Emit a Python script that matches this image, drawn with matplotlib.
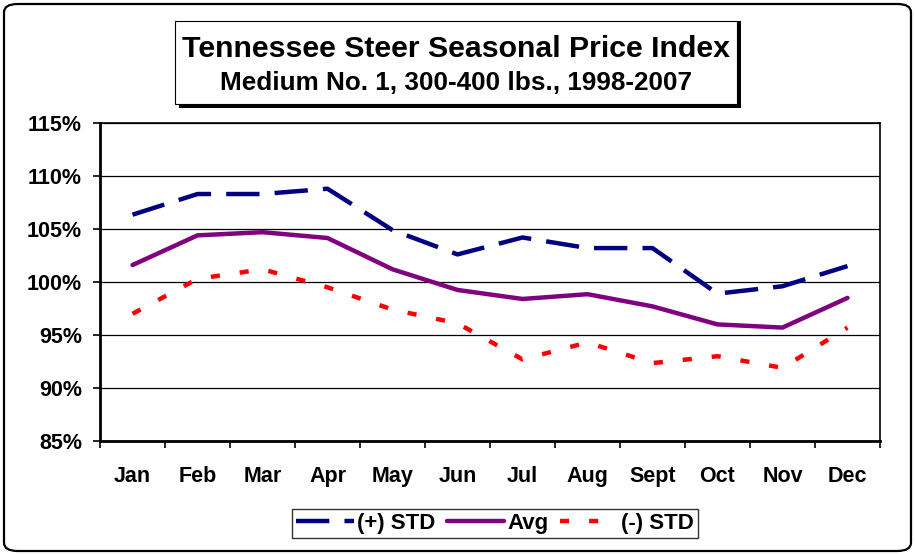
import matplotlib
matplotlib.use('Agg')
import matplotlib.pyplot as plt
from matplotlib.patches import FancyBboxPatch, Rectangle
from matplotlib.ticker import FixedLocator, NullFormatter

plt.rcParams['font.family'] = ['Liberation Sans', 'DejaVu Sans']

months = ['Jan', 'Feb', 'Mar', 'Apr', 'May', 'Jun', 'Jul', 'Aug', 'Sept', 'Oct', 'Nov', 'Dec']
plus_std = [106.35, 108.3, 108.3, 108.8, 104.9, 102.6, 104.2, 103.2, 103.2, 98.9, 99.6, 101.5]
avg = [101.6, 104.4, 104.7, 104.15, 101.2, 99.25, 98.4, 98.85, 97.7, 96.0, 95.7, 98.5]
minus_std = [97.0, 100.3, 101.2, 99.5, 97.4, 96.1, 92.7, 94.3, 92.35, 93.0, 91.9, 95.7]
y_ticks = [85, 90, 95, 100, 105, 110, 115]

fig = plt.figure(figsize=(9.15, 5.55), dpi=100)
ax = fig.add_axes([100 / 915, 1 - 441 / 555, 780 / 915, 318 / 555])

x = list(range(len(months)))
lw = 3.2
ax.plot(x, plus_std, color='#000080', lw=lw, dashes=(7.5, 3.4), label='(+) STD', zorder=3)
ax.plot(x, avg, color='#800080', lw=lw, solid_capstyle='round', label='Avg', zorder=3)
ax.plot(x, minus_std, color='#FF0000', lw=lw, dashes=(2.05, 4.5), label='(-) STD', zorder=3)

ax.set_xlim(-0.5, 11.5)
ax.set_ylim(85, 115)
ax.set_yticks(y_ticks)
ax.set_yticklabels([f'{v}%' for v in y_ticks], fontsize=15.5, fontweight='bold')
ax.yaxis.grid(True, color='black', lw=0.9)
ax.set_axisbelow(True)

ax.xaxis.set_major_locator(FixedLocator([i - 0.5 for i in range(13)]))
ax.xaxis.set_major_formatter(NullFormatter())
ax.xaxis.set_minor_locator(FixedLocator(x))
ax.set_xticklabels(months, minor=True, fontsize=15.5, fontweight='bold')
ax.tick_params(axis='x', which='major', length=5, width=1.2, direction='out')
ax.tick_params(axis='x', which='minor', length=0, pad=18)
ax.tick_params(axis='y', length=5, width=1.2, direction='out', pad=8)

for s in ['left', 'bottom']:
    ax.spines[s].set_linewidth(2)
for s in ['top', 'right']:
    ax.spines[s].set_linewidth(1.2)

# outer rounded frame
fig.patches.append(FancyBboxPatch((4 / 915, 4 / 555), 907 / 915, 547 / 555,
                                  boxstyle='round,pad=0,rounding_size=0.015',
                                  transform=fig.transFigure, fill=False,
                                  edgecolor='black', lw=1.6))

# title box with shadow
fig.patches.append(Rectangle((179 / 915, 1 - 108 / 555), 562 / 915, 87 / 555,
                             transform=fig.transFigure, facecolor='black', edgecolor='none'))
fig.patches.append(Rectangle((175 / 915, 1 - 104 / 555), 562 / 915, 83 / 555,
                             transform=fig.transFigure, facecolor='white', edgecolor='black', lw=0.8))
fig.text(456 / 915, 1 - 49 / 555, 'Tennessee Steer Seasonal Price Index',
         ha='center', va='center', fontsize=21.8, fontweight='bold')
fig.text(456 / 915, 1 - 83 / 555, 'Medium No. 1, 300-400 lbs., 1998-2007',
         ha='center', va='center', fontsize=18.8, fontweight='bold')

leg = fig.legend(loc='center', bbox_to_anchor=(495 / 915, 1 - 523.5 / 555), ncol=3,
                 prop={'weight': 'bold', 'size': 16}, frameon=True, fancybox=False,
                 shadow=False, handlelength=2.6, handletextpad=0.15, columnspacing=0.5,
                 borderpad=0.2, borderaxespad=0)
leg.get_frame().set_edgecolor('black')
leg.get_frame().set_linewidth(1.0)

fig.savefig('out.png', dpi=100)
